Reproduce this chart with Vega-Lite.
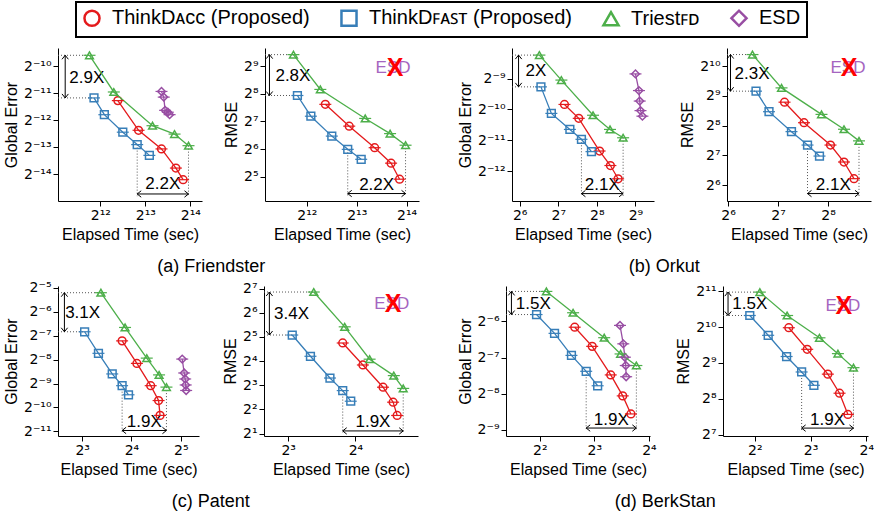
{
"$schema": "https://vega.github.io/schema/vega-lite/v6.json",
"background": "white",
"padding": {"left": 3, "top": 1, "right": 0, "bottom": 0},
"spacing": 4,
"vconcat": [
{"hconcat": [
 {"hconcat": [
  {"width": 144, "height": 153,
   "data": {"values": [
    {"k":"p","s":"a","t":5367,"e":0.000405},{"k":"p","s":"a","t":7383,"e":0.000189},{"k":"p","s":"a","t":10514,"e":0.0001171},{"k":"p","s":"a","t":13124,"e":0.0000716},{"k":"p","s":"a","t":14665,"e":0.0000531},
    {"k":"p","s":"b","t":3717,"e":0.000434},{"k":"p","s":"b","t":4360,"e":0.000282},{"k":"p","s":"b","t":5793,"e":0.00018},{"k":"p","s":"b","t":7231,"e":0.0001308},{"k":"p","s":"b","t":8720,"e":0.0000992},
    {"k":"p","s":"c","t":3468,"e":0.0012975},{"k":"p","s":"c","t":5043,"e":0.0005055},{"k":"p","s":"c","t":9153,"e":0.0002125},{"k":"p","s":"c","t":12855,"e":0.0001714},{"k":"p","s":"c","t":15936,"e":0.0001273},
    {"k":"p","s":"d","t":10514,"e":0.0005126},{"k":"p","s":"d","t":10885,"e":0.000443},{"k":"p","s":"d","t":11113,"e":0.0003155},{"k":"p","s":"d","t":11585,"e":0.0003006},{"k":"p","s":"d","t":11911,"e":0.0002824},
    {"k":"d","t":2135,"e":0.0012975,"t2":3468,"e2":0.0012975},{"k":"d","t":2135,"e":0.000434,"t2":3717,"e2":0.000434},
    {"k":"d","t":7231,"e":0.0001308,"t2":7231,"e2":0.0000348},{"k":"d","t":15936,"e":0.0001273,"t2":15936,"e2":0.0000348},
    {"k":"a","t":2385,"e":0.0012975,"t2":2385,"e2":0.000434},{"k":"a","t":7231,"e":0.0000368,"t2":15936,"e2":0.0000368},
    {"k":"hu","t":2385,"e":0.0012975},{"k":"hd","t":2385,"e":0.000434},{"k":"hl","t":7231,"e":0.0000368},{"k":"hr","t":15936,"e":0.0000368},
    {"k":"x","t":3327,"e":0.000725,"lab":"2.9X"},{"k":"x","t":10735,"e":0.0000472,"lab":"2.2X"}
   ]},
   "encoding": {
    "x": {"field":"t","type":"quantitative","scale":{"type":"log","base":2,"domain":[2135,19620]},"axis":{"values":[4096,8192,16384],"title":"Elapsed Time (sec)","labelExpr":"'2' + replace(replace(replace(replace(replace(replace(replace(replace(replace(replace(replace('' + round(log(datum.value) / LN2), '-', '⁻'), regexp('0', 'g'), '⁰'), regexp('1', 'g'), '¹'), regexp('2', 'g'), '²'), regexp('3', 'g'), '³'), regexp('4', 'g'), '⁴'), regexp('5', 'g'), '⁵'), regexp('6', 'g'), '⁶'), regexp('7', 'g'), '⁷'), regexp('8', 'g'), '⁸'), regexp('9', 'g'), '⁹')"}},
    "y": {"field":"e","type":"quantitative","scale":{"type":"log","base":2,"domain":[0.00003073,0.0015645]},"axis":{"values":[0.0009765625,0.00048828125,0.000244140625,0.0001220703125,0.00006103515625],"title":"Global Error","labelExpr":"'2' + replace(replace(replace(replace(replace(replace(replace(replace(replace(replace(replace('' + round(log(datum.value) / LN2), '-', '⁻'), regexp('0', 'g'), '⁰'), regexp('1', 'g'), '¹'), regexp('2', 'g'), '²'), regexp('3', 'g'), '³'), regexp('4', 'g'), '⁴'), regexp('5', 'g'), '⁵'), regexp('6', 'g'), '⁶'), regexp('7', 'g'), '⁷'), regexp('8', 'g'), '⁸'), regexp('9', 'g'), '⁹')"}}
   },
   "layer": [
    {"transform":[{"filter":"datum.k=='d'"}],"mark":{"type":"rule","strokeDash":[1,2],"color":"#555","strokeWidth":1},"encoding":{"x2":{"field":"t2"},"y2":{"field":"e2"}}},
    {"transform":[{"filter":"datum.k=='a'"}],"mark":{"type":"rule","color":"#000","strokeWidth":1},"encoding":{"x2":{"field":"t2"},"y2":{"field":"e2"}}},
    {"transform":[{"filter":"datum.k=='hu'"}],"mark":{"type":"point","shape":"M-0.8,1L0,0L0.8,1","size":64,"color":"#000","strokeWidth":1,"filled":false,"opacity":1}},
    {"transform":[{"filter":"datum.k=='hd'"}],"mark":{"type":"point","shape":"M-0.8,-1L0,0L0.8,-1","size":64,"color":"#000","strokeWidth":1,"filled":false,"opacity":1}},
    {"transform":[{"filter":"datum.k=='hl'"}],"mark":{"type":"point","shape":"M1,-0.8L0,0L1,0.8","size":64,"color":"#000","strokeWidth":1,"filled":false,"opacity":1}},
    {"transform":[{"filter":"datum.k=='hr'"}],"mark":{"type":"point","shape":"M-1,-0.8L0,0L-1,0.8","size":64,"color":"#000","strokeWidth":1,"filled":false,"opacity":1}},
    {"transform":[{"filter":"datum.k=='x'"}],"mark":{"type":"text","fontSize":17,"color":"#000"},"encoding":{"text":{"field":"lab"}}},
    {"transform":[{"filter":"datum.k=='p'"}],"mark":{"type":"point","filled":false,"size":60,"strokeWidth":1.5,"opacity":1},"encoding":{
      "color":{"field":"s","type":"nominal","scale":{"domain":["a","b","c","d"]},"legend":{"title":null,"orient":"none","legendX":18,"legendY":-46,"labelLimit":400,"labelExpr":"datum.label == 'a' ? 'ThinkDᴀᴄᴄ (Proposed)' : datum.label == 'b' ? 'ThinkDꜰᴀꜱᴛ (Proposed)' : datum.label == 'c' ? 'Triestꜰᴅ' : 'ESD'"}},
      "shape":{"field":"s","type":"nominal","scale":{"domain":["a","b","c","d"]},"legend":{"title":null,"orient":"none","legendX":18,"legendY":-46,"labelLimit":400,"labelExpr":"datum.label == 'a' ? 'ThinkDᴀᴄᴄ (Proposed)' : datum.label == 'b' ? 'ThinkDꜰᴀꜱᴛ (Proposed)' : datum.label == 'c' ? 'Triestꜰᴅ' : 'ESD'"}}}},
    {"transform":[{"filter":"datum.k=='p'"}],"mark":{"type":"line","strokeWidth":1.3},"encoding":{"color":{"field":"s","type":"nominal","scale":{"domain":["a","b","c","d"]}}}},
    {"transform":[{"filter":"datum.k=='p'"}],"mark":{"type":"point","shape":"stroke","size":144,"strokeWidth":1.2,"opacity":1},"encoding":{"color":{"field":"s","type":"nominal","scale":{"domain":["a","b","c","d"]}}}}
   ]
  },
  {"width": 154, "height": 153,
   "data": {"values": [
    {"k":"p","s":"a","t":5294,"e":196.7},{"k":"p","s":"a","t":7383,"e":113.8},{"k":"p","s":"a","t":10514,"e":66.26},{"k":"p","s":"a","t":13216,"e":44.94},{"k":"p","s":"a","t":14869,"e":30.06},
    {"k":"p","s":"b","t":3591,"e":245.6},{"k":"p","s":"b","t":4330,"e":146.0},{"k":"p","s":"b","t":5793,"e":88.65},{"k":"p","s":"b","t":7231,"e":63.56},{"k":"p","s":"b","t":8720,"e":49.52},
    {"k":"p","s":"c","t":3397,"e":685.0},{"k":"p","s":"c","t":4939,"e":286.0},{"k":"p","s":"c","t":9217,"e":138.1},{"k":"p","s":"c","t":13034,"e":94.36},{"k":"p","s":"c","t":16159,"e":70.52},
    {"k":"d","t":2288,"e":685,"t2":3397,"e2":685},{"k":"d","t":2288,"e":245.6,"t2":3591,"e2":245.6},
    {"k":"d","t":7231,"e":63.56,"t2":7231,"e2":19.84},{"k":"d","t":16159,"e":70.52,"t2":16159,"e2":19.84},
    {"k":"a","t":2435,"e":685,"t2":2435,"e2":245.6},{"k":"a","t":7231,"e":20.97,"t2":16159,"e2":20.97},
    {"k":"hu","t":2435,"e":685},{"k":"hd","t":2435,"e":245.6},{"k":"hl","t":7231,"e":20.97},{"k":"hr","t":16159,"e":20.97},
    {"k":"x","t":3373,"e":398.9,"lab":"2.8X"},{"k":"x","t":10810,"e":25.99,"lab":"2.2X"},
    {"k":"esd","t":13587,"e":491.1,"lab":"ESD"},{"k":"xx","t":13970,"e":491.1,"lab":"X"}
   ]},
   "encoding": {
    "x": {"field":"t","type":"quantitative","scale":{"type":"log","base":2,"domain":[2288,19484]},"axis":{"values":[4096,8192,16384],"title":"Elapsed Time (sec)","labelExpr":"'2' + replace(replace(replace(replace(replace(replace(replace(replace(replace(replace(replace('' + round(log(datum.value) / LN2), '-', '⁻'), regexp('0', 'g'), '⁰'), regexp('1', 'g'), '¹'), regexp('2', 'g'), '²'), regexp('3', 'g'), '³'), regexp('4', 'g'), '⁴'), regexp('5', 'g'), '⁵'), regexp('6', 'g'), '⁶'), regexp('7', 'g'), '⁷'), regexp('8', 'g'), '⁸'), regexp('9', 'g'), '⁹')"}},
    "y": {"field":"e","type":"quantitative","scale":{"type":"log","base":2,"domain":[17.39,809]},"axis":{"values":[32,64,128,256,512],"title":"RMSE","labelExpr":"'2' + replace(replace(replace(replace(replace(replace(replace(replace(replace(replace(replace('' + round(log(datum.value) / LN2), '-', '⁻'), regexp('0', 'g'), '⁰'), regexp('1', 'g'), '¹'), regexp('2', 'g'), '²'), regexp('3', 'g'), '³'), regexp('4', 'g'), '⁴'), regexp('5', 'g'), '⁵'), regexp('6', 'g'), '⁶'), regexp('7', 'g'), '⁷'), regexp('8', 'g'), '⁸'), regexp('9', 'g'), '⁹')"}}
   },
   "layer": [
    {"transform":[{"filter":"datum.k=='d'"}],"mark":{"type":"rule","strokeDash":[1,2],"color":"#555","strokeWidth":1},"encoding":{"x2":{"field":"t2"},"y2":{"field":"e2"}}},
    {"transform":[{"filter":"datum.k=='a'"}],"mark":{"type":"rule","color":"#000","strokeWidth":1},"encoding":{"x2":{"field":"t2"},"y2":{"field":"e2"}}},
    {"transform":[{"filter":"datum.k=='hu'"}],"mark":{"type":"point","shape":"M-0.8,1L0,0L0.8,1","size":64,"color":"#000","strokeWidth":1,"filled":false,"opacity":1}},
    {"transform":[{"filter":"datum.k=='hd'"}],"mark":{"type":"point","shape":"M-0.8,-1L0,0L0.8,-1","size":64,"color":"#000","strokeWidth":1,"filled":false,"opacity":1}},
    {"transform":[{"filter":"datum.k=='hl'"}],"mark":{"type":"point","shape":"M1,-0.8L0,0L1,0.8","size":64,"color":"#000","strokeWidth":1,"filled":false,"opacity":1}},
    {"transform":[{"filter":"datum.k=='hr'"}],"mark":{"type":"point","shape":"M-1,-0.8L0,0L-1,0.8","size":64,"color":"#000","strokeWidth":1,"filled":false,"opacity":1}},
    {"transform":[{"filter":"datum.k=='x'"}],"mark":{"type":"text","fontSize":17,"color":"#000"},"encoding":{"text":{"field":"lab"}}},
    {"transform":[{"filter":"datum.k=='esd'"}],"mark":{"type":"text","fontSize":17,"color":"#a565c0"},"encoding":{"text":{"field":"lab"}}},
    {"transform":[{"filter":"datum.k=='xx'"}],"mark":{"type":"text","fontSize":25,"color":"#ff0000","fontWeight":"bold"},"encoding":{"text":{"field":"lab"}}},
    {"transform":[{"filter":"datum.k=='p'"}],"mark":{"type":"point","filled":false,"size":60,"strokeWidth":1.5,"opacity":1},"encoding":{"color":{"field":"s","type":"nominal","scale":{"domain":["a","b","c","d"]}},"shape":{"field":"s","type":"nominal","scale":{"domain":["a","b","c","d"]}}}},
    {"transform":[{"filter":"datum.k=='p'"}],"mark":{"type":"line","strokeWidth":1.3},"encoding":{"color":{"field":"s","type":"nominal","scale":{"domain":["a","b","c","d"]}}}},
    {"transform":[{"filter":"datum.k=='p'"}],"mark":{"type":"point","shape":"stroke","size":144,"strokeWidth":1.2,"opacity":1},"encoding":{"color":{"field":"s","type":"nominal","scale":{"domain":["a","b","c","d"]}}}}
   ]
  }
 ], "spacing": 63, "bounds": "flush", "title": {"text":"(a) Friendster","orient":"bottom","anchor":"middle","fontSize":18,"fontWeight":"normal","offset":16,"color":"#000","font":"Liberation Sans"}},
 {"hconcat": [
  {"width": 142, "height": 153,
   "data": {"values": [
    {"k":"p","s":"a","t":143.0,"e":0.0010911},{"k":"p","s":"a","t":184.8,"e":0.00079872},{"k":"p","s":"a","t":268.7,"e":0.00038311},{"k":"p","s":"a","t":326.3,"e":0.00027659},{"k":"p","s":"a","t":374.8,"e":0.0002053},
    {"k":"p","s":"b","t":93.70,"e":0.0016197},{"k":"p","s":"b","t":113.0,"e":0.00089243},{"k":"p","s":"b","t":157.6,"e":0.00062236},{"k":"p","s":"b","t":194.0,"e":0.00049853},{"k":"p","s":"b","t":232.3,"e":0.00037783},
    {"k":"p","s":"c","t":91.14,"e":0.0033076},{"k":"p","s":"c","t":135.3,"e":0.0018866},{"k":"p","s":"c","t":238.9,"e":0.00085606},{"k":"p","s":"c","t":324.0,"e":0.00062236},{"k":"p","s":"c","t":410.1,"e":0.00051611},
    {"k":"p","s":"d","t":512,"e":0.0021672},{"k":"p","s":"d","t":545,"e":0.0014905},{"k":"p","s":"d","t":552.6,"e":0.0011775},{"k":"p","s":"d","t":560.3,"e":0.00094985},{"k":"p","s":"d","t":580,"e":0.00083843},
    {"k":"d","t":55.72,"e":0.0033076,"t2":91.14,"e2":0.0033076},{"k":"d","t":55.72,"e":0.0016197,"t2":93.70,"e2":0.0016197},
    {"k":"d","t":194,"e":0.00049853,"t2":194,"e2":0.00013926},{"k":"d","t":410.1,"e":0.00051611,"t2":410.1,"e2":0.00013926},
    {"k":"a","t":62.68,"e":0.0033076,"t2":62.68,"e2":0.0016197},{"k":"a","t":194,"e":0.00014719,"t2":410.1,"e2":0.00014719},
    {"k":"hu","t":62.68,"e":0.0033076},{"k":"hd","t":62.68,"e":0.0016197},{"k":"hl","t":194,"e":0.00014719},{"k":"hr","t":410.1,"e":0.00014719},
    {"k":"x","t":85.63,"e":0.0023066,"lab":"2X"},{"k":"x","t":282.1,"e":0.00017872,"lab":"2.1X"}
   ]},
   "encoding": {
    "x": {"field":"t","type":"quantitative","scale":{"type":"log","base":2,"domain":[55.72,714.1]},"axis":{"values":[64,128,256,512],"title":"Elapsed Time (sec)","labelExpr":"'2' + replace(replace(replace(replace(replace(replace(replace(replace(replace(replace(replace('' + round(log(datum.value) / LN2), '-', '⁻'), regexp('0', 'g'), '⁰'), regexp('1', 'g'), '¹'), regexp('2', 'g'), '²'), regexp('3', 'g'), '³'), regexp('4', 'g'), '⁴'), regexp('5', 'g'), '⁵'), regexp('6', 'g'), '⁶'), regexp('7', 'g'), '⁷'), regexp('8', 'g'), '⁸'), regexp('9', 'g'), '⁹')"}},
    "y": {"field":"e","type":"quantitative","scale":{"type":"log","base":2,"domain":[0.00012463,0.0038793]},"axis":{"values":[0.001953125,0.0009765625,0.00048828125,0.000244140625],"title":"Global Error","labelExpr":"'2' + replace(replace(replace(replace(replace(replace(replace(replace(replace(replace(replace('' + round(log(datum.value) / LN2), '-', '⁻'), regexp('0', 'g'), '⁰'), regexp('1', 'g'), '¹'), regexp('2', 'g'), '²'), regexp('3', 'g'), '³'), regexp('4', 'g'), '⁴'), regexp('5', 'g'), '⁵'), regexp('6', 'g'), '⁶'), regexp('7', 'g'), '⁷'), regexp('8', 'g'), '⁸'), regexp('9', 'g'), '⁹')"}}
   },
   "layer": [
    {"transform":[{"filter":"datum.k=='d'"}],"mark":{"type":"rule","strokeDash":[1,2],"color":"#555","strokeWidth":1},"encoding":{"x2":{"field":"t2"},"y2":{"field":"e2"}}},
    {"transform":[{"filter":"datum.k=='a'"}],"mark":{"type":"rule","color":"#000","strokeWidth":1},"encoding":{"x2":{"field":"t2"},"y2":{"field":"e2"}}},
    {"transform":[{"filter":"datum.k=='hu'"}],"mark":{"type":"point","shape":"M-0.8,1L0,0L0.8,1","size":64,"color":"#000","strokeWidth":1,"filled":false,"opacity":1}},
    {"transform":[{"filter":"datum.k=='hd'"}],"mark":{"type":"point","shape":"M-0.8,-1L0,0L0.8,-1","size":64,"color":"#000","strokeWidth":1,"filled":false,"opacity":1}},
    {"transform":[{"filter":"datum.k=='hl'"}],"mark":{"type":"point","shape":"M1,-0.8L0,0L1,0.8","size":64,"color":"#000","strokeWidth":1,"filled":false,"opacity":1}},
    {"transform":[{"filter":"datum.k=='hr'"}],"mark":{"type":"point","shape":"M-1,-0.8L0,0L-1,0.8","size":64,"color":"#000","strokeWidth":1,"filled":false,"opacity":1}},
    {"transform":[{"filter":"datum.k=='x'"}],"mark":{"type":"text","fontSize":17,"color":"#000"},"encoding":{"text":{"field":"lab"}}},
    {"transform":[{"filter":"datum.k=='p'"}],"mark":{"type":"point","filled":false,"size":60,"strokeWidth":1.5,"opacity":1},"encoding":{"color":{"field":"s","type":"nominal","scale":{"domain":["a","b","c","d"]}},"shape":{"field":"s","type":"nominal","scale":{"domain":["a","b","c","d"]}}}},
    {"transform":[{"filter":"datum.k=='p'"}],"mark":{"type":"line","strokeWidth":1.3},"encoding":{"color":{"field":"s","type":"nominal","scale":{"domain":["a","b","c","d"]}}}},
    {"transform":[{"filter":"datum.k=='p'"}],"mark":{"type":"point","shape":"stroke","size":144,"strokeWidth":1.2,"opacity":1},"encoding":{"color":{"field":"s","type":"nominal","scale":{"domain":["a","b","c","d"]}}}}
   ]
  },
  {"width": 144, "height": 153,
   "data": {"values": [
    {"k":"p","s":"a","t":140.1,"e":442.6},{"k":"p","s":"a","t":183.6,"e":274.4},{"k":"p","s":"a","t":265.0,"e":163.1},{"k":"p","s":"a","t":319.6,"e":109.9},{"k":"p","s":"a","t":367.1,"e":74.54},
    {"k":"p","s":"b","t":94.36,"e":572.1},{"k":"p","s":"b","t":113.0,"e":354.6},{"k":"p","s":"b","t":154.3,"e":222.9},{"k":"p","s":"b","t":192.7,"e":163.1},{"k":"p","s":"b","t":227.5,"e":126.2},
    {"k":"p","s":"c","t":89.88,"e":1341.8},{"k":"p","s":"c","t":134.4,"e":617.4},{"k":"p","s":"c","t":233.9,"e":333.1},{"k":"p","s":"c","t":319.6,"e":235.6},{"k":"p","s":"c","t":393.4,"e":179.8},
    {"k":"d","t":63.12,"e":1341.8,"t2":89.88,"e2":1341.8},{"k":"d","t":63.12,"e":572.1,"t2":94.36,"e2":572.1},
    {"k":"d","t":192.7,"e":163.1,"t2":192.7,"e2":49.87},{"k":"d","t":393.4,"e":179.8,"t2":393.4,"e2":49.87},
    {"k":"a","t":66.26,"e":1341.8,"t2":66.26,"e2":572.1},{"k":"a","t":192.7,"e":52.71,"t2":393.4,"e2":52.71},
    {"k":"hu","t":66.26,"e":1341.8},{"k":"hd","t":66.26,"e":572.1},{"k":"hl","t":192.7,"e":52.71},{"k":"hr","t":393.4,"e":52.71},
    {"k":"x","t":89.26,"e":855.1,"lab":"2.3X"},{"k":"x","t":275.3,"e":64.45,"lab":"2.1X"},
    {"k":"esd","t":337.8,"e":982.3,"lab":"ESD"},{"k":"xx","t":342.5,"e":982.3,"lab":"X"}
   ]},
   "encoding": {
    "x": {"field":"t","type":"quantitative","scale":{"type":"log","base":2,"domain":[63.12,464.6]},"axis":{"values":[64,128,256],"title":"Elapsed Time (sec)","labelExpr":"'2' + replace(replace(replace(replace(replace(replace(replace(replace(replace(replace(replace('' + round(log(datum.value) / LN2), '-', '⁻'), regexp('0', 'g'), '⁰'), regexp('1', 'g'), '¹'), regexp('2', 'g'), '²'), regexp('3', 'g'), '³'), regexp('4', 'g'), '⁴'), regexp('5', 'g'), '⁵'), regexp('6', 'g'), '⁶'), regexp('7', 'g'), '⁷'), regexp('8', 'g'), '⁸'), regexp('9', 'g'), '⁹')"}},
    "y": {"field":"e","type":"quantitative","scale":{"type":"log","base":2,"domain":[44.32,1563]},"axis":{"values":[64,128,256,512,1024],"title":"RMSE","labelExpr":"'2' + replace(replace(replace(replace(replace(replace(replace(replace(replace(replace(replace('' + round(log(datum.value) / LN2), '-', '⁻'), regexp('0', 'g'), '⁰'), regexp('1', 'g'), '¹'), regexp('2', 'g'), '²'), regexp('3', 'g'), '³'), regexp('4', 'g'), '⁴'), regexp('5', 'g'), '⁵'), regexp('6', 'g'), '⁶'), regexp('7', 'g'), '⁷'), regexp('8', 'g'), '⁸'), regexp('9', 'g'), '⁹')"}}
   },
   "layer": [
    {"transform":[{"filter":"datum.k=='d'"}],"mark":{"type":"rule","strokeDash":[1,2],"color":"#555","strokeWidth":1},"encoding":{"x2":{"field":"t2"},"y2":{"field":"e2"}}},
    {"transform":[{"filter":"datum.k=='a'"}],"mark":{"type":"rule","color":"#000","strokeWidth":1},"encoding":{"x2":{"field":"t2"},"y2":{"field":"e2"}}},
    {"transform":[{"filter":"datum.k=='hu'"}],"mark":{"type":"point","shape":"M-0.8,1L0,0L0.8,1","size":64,"color":"#000","strokeWidth":1,"filled":false,"opacity":1}},
    {"transform":[{"filter":"datum.k=='hd'"}],"mark":{"type":"point","shape":"M-0.8,-1L0,0L0.8,-1","size":64,"color":"#000","strokeWidth":1,"filled":false,"opacity":1}},
    {"transform":[{"filter":"datum.k=='hl'"}],"mark":{"type":"point","shape":"M1,-0.8L0,0L1,0.8","size":64,"color":"#000","strokeWidth":1,"filled":false,"opacity":1}},
    {"transform":[{"filter":"datum.k=='hr'"}],"mark":{"type":"point","shape":"M-1,-0.8L0,0L-1,0.8","size":64,"color":"#000","strokeWidth":1,"filled":false,"opacity":1}},
    {"transform":[{"filter":"datum.k=='x'"}],"mark":{"type":"text","fontSize":17,"color":"#000"},"encoding":{"text":{"field":"lab"}}},
    {"transform":[{"filter":"datum.k=='esd'"}],"mark":{"type":"text","fontSize":17,"color":"#a565c0"},"encoding":{"text":{"field":"lab"}}},
    {"transform":[{"filter":"datum.k=='xx'"}],"mark":{"type":"text","fontSize":25,"color":"#ff0000","fontWeight":"bold"},"encoding":{"text":{"field":"lab"}}},
    {"transform":[{"filter":"datum.k=='p'"}],"mark":{"type":"point","filled":false,"size":60,"strokeWidth":1.5,"opacity":1},"encoding":{"color":{"field":"s","type":"nominal","scale":{"domain":["a","b","c","d"]}},"shape":{"field":"s","type":"nominal","scale":{"domain":["a","b","c","d"]}}}},
    {"transform":[{"filter":"datum.k=='p'"}],"mark":{"type":"line","strokeWidth":1.3},"encoding":{"color":{"field":"s","type":"nominal","scale":{"domain":["a","b","c","d"]}}}},
    {"transform":[{"filter":"datum.k=='p'"}],"mark":{"type":"point","shape":"stroke","size":144,"strokeWidth":1.2,"opacity":1},"encoding":{"color":{"field":"s","type":"nominal","scale":{"domain":["a","b","c","d"]}}}}
   ]
  }
 ], "spacing": 73, "bounds": "flush", "title": {"text":"(b) Orkut","orient":"bottom","anchor":"middle","fontSize":18,"fontWeight":"normal","offset":16,"color":"#000","font":"Liberation Sans"}}
], "spacing": 38},
{"hconcat": [
 {"hconcat": [
  {"width": 141, "height": 150,
   "data": {"values": [
    {"k":"p","s":"a","t":14.03,"e":0.0067074},{"k":"p","s":"a","t":17.27,"e":0.0034963},{"k":"p","s":"a","t":20.97,"e":0.001835},{"k":"p","s":"a","t":23.43,"e":0.0011939},{"k":"p","s":"a","t":23.92,"e":0.0007769},
    {"k":"p","s":"b","t":8.282,"e":0.0087289},{"k":"p","s":"b","t":10.06,"e":0.0046777},{"k":"p","s":"b","t":12.21,"e":0.0025771},{"k":"p","s":"b","t":14.03,"e":0.001835},{"k":"p","s":"b","t":15.35,"e":0.0014101},
    {"k":"p","s":"c","t":10.41,"e":0.027017},{"k":"p","s":"c","t":14.62,"e":0.0098891},{"k":"p","s":"c","t":19.84,"e":0.0040723},{"k":"p","s":"c","t":23.59,"e":0.0025066},{"k":"p","s":"c","t":26.17,"e":0.0017603},
    {"k":"p","s":"d","t":32.67,"e":0.003961},{"k":"p","s":"d","t":33.59,"e":0.0026496},{"k":"p","s":"d","t":34.06,"e":0.0022281},{"k":"p","s":"d","t":34.30,"e":0.0018735},{"k":"p","s":"d","t":34.53,"e":0.0015975},
    {"k":"d","t":5.696,"e":0.027017,"t2":10.41,"e2":0.027017},{"k":"d","t":5.696,"e":0.0087289,"t2":8.282,"e2":0.0087289},
    {"k":"d","t":14.03,"e":0.001835,"t2":14.03,"e2":0.00047822},{"k":"d","t":26.17,"e":0.0017603,"t2":26.17,"e2":0.00047822},
    {"k":"a","t":6.233,"e":0.027017,"t2":6.233,"e2":0.0087289},{"k":"a","t":14.03,"e":0.000502,"t2":26.17,"e2":0.000502},
    {"k":"hu","t":6.233,"e":0.027017},{"k":"hd","t":6.233,"e":0.0087289},{"k":"hl","t":14.03,"e":0.000502},{"k":"hr","t":26.17,"e":0.000502},
    {"k":"x","t":8.056,"e":0.015198,"lab":"3.1X"},{"k":"x","t":19.16,"e":0.00063984,"lab":"1.9X"}
   ]},
   "encoding": {
    "x": {"field":"t","type":"quantitative","scale":{"type":"log","base":2,"domain":[5.696,41.36]},"axis":{"values":[8,16,32],"title":"Elapsed Time (sec)","labelExpr":"'2' + replace(replace(replace(replace(replace(replace(replace(replace(replace(replace(replace('' + round(log(datum.value) / LN2), '-', '⁻'), regexp('0', 'g'), '⁰'), regexp('1', 'g'), '¹'), regexp('2', 'g'), '²'), regexp('3', 'g'), '³'), regexp('4', 'g'), '⁴'), regexp('5', 'g'), '⁵'), regexp('6', 'g'), '⁶'), regexp('7', 'g'), '⁷'), regexp('8', 'g'), '⁸'), regexp('9', 'g'), '⁹')"}},
    "y": {"field":"e","type":"quantitative","scale":{"type":"log","base":2,"domain":[0.00042803,0.032803]},"axis":{"values":[0.03125,0.015625,0.0078125,0.00390625,0.001953125,0.0009765625,0.00048828125],"title":"Global Error","labelExpr":"'2' + replace(replace(replace(replace(replace(replace(replace(replace(replace(replace(replace('' + round(log(datum.value) / LN2), '-', '⁻'), regexp('0', 'g'), '⁰'), regexp('1', 'g'), '¹'), regexp('2', 'g'), '²'), regexp('3', 'g'), '³'), regexp('4', 'g'), '⁴'), regexp('5', 'g'), '⁵'), regexp('6', 'g'), '⁶'), regexp('7', 'g'), '⁷'), regexp('8', 'g'), '⁸'), regexp('9', 'g'), '⁹')"}}
   },
   "layer": [
    {"transform":[{"filter":"datum.k=='d'"}],"mark":{"type":"rule","strokeDash":[1,2],"color":"#555","strokeWidth":1},"encoding":{"x2":{"field":"t2"},"y2":{"field":"e2"}}},
    {"transform":[{"filter":"datum.k=='a'"}],"mark":{"type":"rule","color":"#000","strokeWidth":1},"encoding":{"x2":{"field":"t2"},"y2":{"field":"e2"}}},
    {"transform":[{"filter":"datum.k=='hu'"}],"mark":{"type":"point","shape":"M-0.8,1L0,0L0.8,1","size":64,"color":"#000","strokeWidth":1,"filled":false,"opacity":1}},
    {"transform":[{"filter":"datum.k=='hd'"}],"mark":{"type":"point","shape":"M-0.8,-1L0,0L0.8,-1","size":64,"color":"#000","strokeWidth":1,"filled":false,"opacity":1}},
    {"transform":[{"filter":"datum.k=='hl'"}],"mark":{"type":"point","shape":"M1,-0.8L0,0L1,0.8","size":64,"color":"#000","strokeWidth":1,"filled":false,"opacity":1}},
    {"transform":[{"filter":"datum.k=='hr'"}],"mark":{"type":"point","shape":"M-1,-0.8L0,0L-1,0.8","size":64,"color":"#000","strokeWidth":1,"filled":false,"opacity":1}},
    {"transform":[{"filter":"datum.k=='x'"}],"mark":{"type":"text","fontSize":17,"color":"#000"},"encoding":{"text":{"field":"lab"}}},
    {"transform":[{"filter":"datum.k=='p'"}],"mark":{"type":"point","filled":false,"size":60,"strokeWidth":1.5,"opacity":1},"encoding":{"color":{"field":"s","type":"nominal","scale":{"domain":["a","b","c","d"]}},"shape":{"field":"s","type":"nominal","scale":{"domain":["a","b","c","d"]}}}},
    {"transform":[{"filter":"datum.k=='p'"}],"mark":{"type":"line","strokeWidth":1.3},"encoding":{"color":{"field":"s","type":"nominal","scale":{"domain":["a","b","c","d"]}}}},
    {"transform":[{"filter":"datum.k=='p'"}],"mark":{"type":"point","shape":"stroke","size":144,"strokeWidth":1.2,"opacity":1},"encoding":{"color":{"field":"s","type":"nominal","scale":{"domain":["a","b","c","d"]}}}}
   ]
  },
  {"width": 154, "height": 150,
   "data": {"values": [
    {"k":"p","s":"a","t":14.03,"e":26.91},{"k":"p","s":"a","t":17.27,"e":14.32},{"k":"p","s":"a","t":21.26,"e":7.568},{"k":"p","s":"a","t":23.59,"e":4.924},{"k":"p","s":"a","t":24.59,"e":3.364},
    {"k":"p","s":"b","t":8.34,"e":33.82},{"k":"p","s":"b","t":10.06,"e":18.38},{"k":"p","s":"b","t":12.30,"e":9.849},{"k":"p","s":"b","t":14.03,"e":6.868},{"k":"p","s":"b","t":15.24,"e":5.063},
    {"k":"p","s":"c","t":10.41,"e":116.2},{"k":"p","s":"c","t":14.32,"e":42.81},{"k":"p","s":"c","t":18.51,"e":16.91},{"k":"p","s":"c","t":23.75,"e":10.56},{"k":"p","s":"c","t":26.17,"e":7.311},
    {"k":"d","t":6.233,"e":116.2,"t2":10.41,"e2":116.2},{"k":"d","t":6.233,"e":33.82,"t2":8.34,"e2":33.82},
    {"k":"d","t":14.03,"e":6.868,"t2":14.03,"e2":2.035},{"k":"d","t":26.17,"e":7.311,"t2":26.17,"e2":2.035},
    {"k":"a","t":6.589,"e":116.2,"t2":6.589,"e2":33.82},{"k":"a","t":14.03,"e":2.158,"t2":26.17,"e2":2.158},
    {"k":"hu","t":6.589,"e":116.2},{"k":"hd","t":6.589,"e":33.82},{"k":"hl","t":14.03,"e":2.158},{"k":"hr","t":26.17,"e":2.158},
    {"k":"x","t":8.282,"e":61.39,"lab":"3.4X"},{"k":"x","t":19.16,"e":2.789,"lab":"1.9X"},
    {"k":"esd","t":23.26,"e":81.57,"lab":"ESD"},{"k":"xx","t":23.6,"e":81.57,"lab":"X"}
   ]},
   "encoding": {
    "x": {"field":"t","type":"quantitative","scale":{"type":"log","base":2,"domain":[6.233,30.48]},"axis":{"values":[8,16],"title":"Elapsed Time (sec)","labelExpr":"'2' + replace(replace(replace(replace(replace(replace(replace(replace(replace(replace(replace('' + round(log(datum.value) / LN2), '-', '⁻'), regexp('0', 'g'), '⁰'), regexp('1', 'g'), '¹'), regexp('2', 'g'), '²'), regexp('3', 'g'), '³'), regexp('4', 'g'), '⁴'), regexp('5', 'g'), '⁵'), regexp('6', 'g'), '⁶'), regexp('7', 'g'), '⁷'), regexp('8', 'g'), '⁸'), regexp('9', 'g'), '⁹')"}},
    "y": {"field":"e","type":"quantitative","scale":{"type":"log","base":2,"domain":[1.866,138.1]},"axis":{"values":[2,4,8,16,32,64,128],"title":"RMSE","labelExpr":"'2' + replace(replace(replace(replace(replace(replace(replace(replace(replace(replace(replace('' + round(log(datum.value) / LN2), '-', '⁻'), regexp('0', 'g'), '⁰'), regexp('1', 'g'), '¹'), regexp('2', 'g'), '²'), regexp('3', 'g'), '³'), regexp('4', 'g'), '⁴'), regexp('5', 'g'), '⁵'), regexp('6', 'g'), '⁶'), regexp('7', 'g'), '⁷'), regexp('8', 'g'), '⁸'), regexp('9', 'g'), '⁹')"}}
   },
   "layer": [
    {"transform":[{"filter":"datum.k=='d'"}],"mark":{"type":"rule","strokeDash":[1,2],"color":"#555","strokeWidth":1},"encoding":{"x2":{"field":"t2"},"y2":{"field":"e2"}}},
    {"transform":[{"filter":"datum.k=='a'"}],"mark":{"type":"rule","color":"#000","strokeWidth":1},"encoding":{"x2":{"field":"t2"},"y2":{"field":"e2"}}},
    {"transform":[{"filter":"datum.k=='hu'"}],"mark":{"type":"point","shape":"M-0.8,1L0,0L0.8,1","size":64,"color":"#000","strokeWidth":1,"filled":false,"opacity":1}},
    {"transform":[{"filter":"datum.k=='hd'"}],"mark":{"type":"point","shape":"M-0.8,-1L0,0L0.8,-1","size":64,"color":"#000","strokeWidth":1,"filled":false,"opacity":1}},
    {"transform":[{"filter":"datum.k=='hl'"}],"mark":{"type":"point","shape":"M1,-0.8L0,0L1,0.8","size":64,"color":"#000","strokeWidth":1,"filled":false,"opacity":1}},
    {"transform":[{"filter":"datum.k=='hr'"}],"mark":{"type":"point","shape":"M-1,-0.8L0,0L-1,0.8","size":64,"color":"#000","strokeWidth":1,"filled":false,"opacity":1}},
    {"transform":[{"filter":"datum.k=='x'"}],"mark":{"type":"text","fontSize":17,"color":"#000"},"encoding":{"text":{"field":"lab"}}},
    {"transform":[{"filter":"datum.k=='esd'"}],"mark":{"type":"text","fontSize":17,"color":"#a565c0"},"encoding":{"text":{"field":"lab"}}},
    {"transform":[{"filter":"datum.k=='xx'"}],"mark":{"type":"text","fontSize":25,"color":"#ff0000","fontWeight":"bold"},"encoding":{"text":{"field":"lab"}}},
    {"transform":[{"filter":"datum.k=='p'"}],"mark":{"type":"point","filled":false,"size":60,"strokeWidth":1.5,"opacity":1},"encoding":{"color":{"field":"s","type":"nominal","scale":{"domain":["a","b","c","d"]}},"shape":{"field":"s","type":"nominal","scale":{"domain":["a","b","c","d"]}}}},
    {"transform":[{"filter":"datum.k=='p'"}],"mark":{"type":"line","strokeWidth":1.3},"encoding":{"color":{"field":"s","type":"nominal","scale":{"domain":["a","b","c","d"]}}}},
    {"transform":[{"filter":"datum.k=='p'"}],"mark":{"type":"point","shape":"stroke","size":144,"strokeWidth":1.2,"opacity":1},"encoding":{"color":{"field":"s","type":"nominal","scale":{"domain":["a","b","c","d"]}}}}
   ]
  }
 ], "spacing": 65, "bounds": "flush", "title": {"text":"(c) Patent","orient":"bottom","anchor":"middle","fontSize":18,"fontWeight":"normal","offset":16,"color":"#000","font":"Liberation Sans"}},
 {"hconcat": [
  {"width": 144, "height": 150,
   "data": {"values": [
    {"k":"p","s":"a","t":6.233,"e":0.013985},{"k":"p","s":"a","t":7.781,"e":0.0096852},{"k":"p","s":"a","t":9.849,"e":0.0056016},{"k":"p","s":"a","t":11.47,"e":0.0037471},{"k":"p","s":"a","t":12.73,"e":0.0026496},
    {"k":"p","s":"b","t":3.837,"e":0.017825},{"k":"p","s":"b","t":4.823,"e":0.01243},{"k":"p","s":"b","t":5.979,"e":0.0081445},{"k":"p","s":"b","t":7.21,"e":0.0060035},{"k":"p","s":"b","t":8.34,"e":0.0045496},
    {"k":"p","s":"c","t":4.347,"e":0.027777},{"k":"p","s":"c","t":6.105,"e":0.018453},{"k":"p","s":"c","t":9.063,"e":0.011438},{"k":"p","s":"c","t":11.16,"e":0.0083734},{"k":"p","s":"c","t":13.64,"e":0.0067074},
    {"k":"p","s":"d","t":11.08,"e":0.014478},{"k":"p","s":"d","t":11.55,"e":0.010166},{"k":"p","s":"d","t":11.79,"e":0.0078672},{"k":"p","s":"d","t":11.92,"e":0.0067074},{"k":"p","s":"d","t":11.98,"e":0.0054105},
    {"k":"d","t":2.603,"e":0.027777,"t2":4.347,"e2":0.027777},{"k":"d","t":2.603,"e":0.017825,"t2":3.837,"e2":0.017825},
    {"k":"d","t":7.21,"e":0.0060035,"t2":7.21,"e2":0.0019805},{"k":"d","t":13.64,"e":0.0067074,"t2":13.64,"e2":0.0019805},
    {"k":"a","t":2.789,"e":0.027777,"t2":2.789,"e2":0.017825},{"k":"a","t":7.21,"e":0.0020221,"t2":13.64,"e2":0.0020221},
    {"k":"hu","t":2.789,"e":0.027777},{"k":"hd","t":2.789,"e":0.017825},{"k":"hl","t":7.21,"e":0.0020221},{"k":"hr","t":13.64,"e":0.0020221},
    {"k":"x","t":3.681,"e":0.021944,"lab":"1.5X"},{"k":"x","t":9.917,"e":0.0023715,"lab":"1.9X"}
   ]},
   "encoding": {
    "x": {"field":"t","type":"quantitative","scale":{"type":"log","base":2,"domain":[2.603,16.22]},"axis":{"values":[4,8,16],"title":"Elapsed Time (sec)","labelExpr":"'2' + replace(replace(replace(replace(replace(replace(replace(replace(replace(replace(replace('' + round(log(datum.value) / LN2), '-', '⁻'), regexp('0', 'g'), '⁰'), regexp('1', 'g'), '¹'), regexp('2', 'g'), '²'), regexp('3', 'g'), '³'), regexp('4', 'g'), '⁴'), regexp('5', 'g'), '⁵'), regexp('6', 'g'), '⁶'), regexp('7', 'g'), '⁷'), regexp('8', 'g'), '⁸'), regexp('9', 'g'), '⁹')"}},
    "y": {"field":"e","type":"quantitative","scale":{"type":"log","base":2,"domain":[0.001736,0.03082]},"axis":{"values":[0.015625,0.0078125,0.00390625,0.001953125],"title":"Global Error","labelExpr":"'2' + replace(replace(replace(replace(replace(replace(replace(replace(replace(replace(replace('' + round(log(datum.value) / LN2), '-', '⁻'), regexp('0', 'g'), '⁰'), regexp('1', 'g'), '¹'), regexp('2', 'g'), '²'), regexp('3', 'g'), '³'), regexp('4', 'g'), '⁴'), regexp('5', 'g'), '⁵'), regexp('6', 'g'), '⁶'), regexp('7', 'g'), '⁷'), regexp('8', 'g'), '⁸'), regexp('9', 'g'), '⁹')"}}
   },
   "layer": [
    {"transform":[{"filter":"datum.k=='d'"}],"mark":{"type":"rule","strokeDash":[1,2],"color":"#555","strokeWidth":1},"encoding":{"x2":{"field":"t2"},"y2":{"field":"e2"}}},
    {"transform":[{"filter":"datum.k=='a'"}],"mark":{"type":"rule","color":"#000","strokeWidth":1},"encoding":{"x2":{"field":"t2"},"y2":{"field":"e2"}}},
    {"transform":[{"filter":"datum.k=='hu'"}],"mark":{"type":"point","shape":"M-0.8,1L0,0L0.8,1","size":64,"color":"#000","strokeWidth":1,"filled":false,"opacity":1}},
    {"transform":[{"filter":"datum.k=='hd'"}],"mark":{"type":"point","shape":"M-0.8,-1L0,0L0.8,-1","size":64,"color":"#000","strokeWidth":1,"filled":false,"opacity":1}},
    {"transform":[{"filter":"datum.k=='hl'"}],"mark":{"type":"point","shape":"M1,-0.8L0,0L1,0.8","size":64,"color":"#000","strokeWidth":1,"filled":false,"opacity":1}},
    {"transform":[{"filter":"datum.k=='hr'"}],"mark":{"type":"point","shape":"M-1,-0.8L0,0L-1,0.8","size":64,"color":"#000","strokeWidth":1,"filled":false,"opacity":1}},
    {"transform":[{"filter":"datum.k=='x'"}],"mark":{"type":"text","fontSize":17,"color":"#000"},"encoding":{"text":{"field":"lab"}}},
    {"transform":[{"filter":"datum.k=='p'"}],"mark":{"type":"point","filled":false,"size":60,"strokeWidth":1.5,"opacity":1},"encoding":{"color":{"field":"s","type":"nominal","scale":{"domain":["a","b","c","d"]}},"shape":{"field":"s","type":"nominal","scale":{"domain":["a","b","c","d"]}}}},
    {"transform":[{"filter":"datum.k=='p'"}],"mark":{"type":"line","strokeWidth":1.3},"encoding":{"color":{"field":"s","type":"nominal","scale":{"domain":["a","b","c","d"]}}}},
    {"transform":[{"filter":"datum.k=='p'"}],"mark":{"type":"point","shape":"stroke","size":144,"strokeWidth":1.2,"opacity":1},"encoding":{"color":{"field":"s","type":"nominal","scale":{"domain":["a","b","c","d"]}}}}
   ]
  },
  {"width": 145, "height": 150,
   "data": {"values": [
    {"k":"p","s":"a","t":6.105,"e":1009.9},{"k":"p","s":"a","t":7.674,"e":666.3},{"k":"p","s":"a","t":9.918,"e":413.0},{"k":"p","s":"a","t":11.47,"e":286.0},{"k":"p","s":"a","t":12.73,"e":190.0},
    {"k":"p","s":"b","t":3.758,"e":1278.3},{"k":"p","s":"b","t":4.724,"e":873.1},{"k":"p","s":"b","t":5.938,"e":580.0},{"k":"p","s":"b","t":7.16,"e":430.5},{"k":"p","s":"b","t":8.34,"e":333.1},
    {"k":"p","s":"c","t":4.258,"e":2005.8},{"k":"p","s":"c","t":5.979,"e":1278.3},{"k":"p","s":"c","t":8.938,"e":831.7},{"k":"p","s":"c","t":11.24,"e":613.1},{"k":"p","s":"c","t":13.64,"e":467.9},
    {"k":"d","t":2.694,"e":2005.8,"t2":4.258,"e2":2005.8},{"k":"d","t":2.694,"e":1278.3,"t2":3.758,"e2":1278.3},
    {"k":"d","t":7.16,"e":430.5,"t2":7.16,"e2":140.1},{"k":"d","t":13.64,"e":467.9,"t2":13.64,"e2":140.1},
    {"k":"a","t":2.868,"e":2005.8,"t2":2.868,"e2":1278.3},{"k":"a","t":7.16,"e":146.0,"t2":13.64,"e2":146.0},
    {"k":"hu","t":2.868,"e":2005.8},{"k":"hd","t":2.868,"e":1278.3},{"k":"hl","t":7.16,"e":146.0},{"k":"hr","t":13.64,"e":146.0},
    {"k":"x","t":3.758,"e":1584.7,"lab":"1.5X"},{"k":"x","t":9.882,"e":171.3,"lab":"1.9X"},
    {"k":"esd","t":11.96,"e":1530.7,"lab":"ESD"},{"k":"xx","t":12.1,"e":1530.7,"lab":"X"}
   ]},
   "encoding": {
    "x": {"field":"t","type":"quantitative","scale":{"type":"log","base":2,"domain":[2.694,16.34]},"axis":{"values":[4,8,16],"title":"Elapsed Time (sec)","labelExpr":"'2' + replace(replace(replace(replace(replace(replace(replace(replace(replace(replace(replace('' + round(log(datum.value) / LN2), '-', '⁻'), regexp('0', 'g'), '⁰'), regexp('1', 'g'), '¹'), regexp('2', 'g'), '²'), regexp('3', 'g'), '³'), regexp('4', 'g'), '⁴'), regexp('5', 'g'), '⁵'), regexp('6', 'g'), '⁶'), regexp('7', 'g'), '⁷'), regexp('8', 'g'), '⁸'), regexp('9', 'g'), '⁹')"}},
    "y": {"field":"e","type":"quantitative","scale":{"type":"log","base":2,"domain":[125.4,2256.7]},"axis":{"values":[128,256,512,1024,2048],"title":"RMSE","labelExpr":"'2' + replace(replace(replace(replace(replace(replace(replace(replace(replace(replace(replace('' + round(log(datum.value) / LN2), '-', '⁻'), regexp('0', 'g'), '⁰'), regexp('1', 'g'), '¹'), regexp('2', 'g'), '²'), regexp('3', 'g'), '³'), regexp('4', 'g'), '⁴'), regexp('5', 'g'), '⁵'), regexp('6', 'g'), '⁶'), regexp('7', 'g'), '⁷'), regexp('8', 'g'), '⁸'), regexp('9', 'g'), '⁹')"}}
   },
   "layer": [
    {"transform":[{"filter":"datum.k=='d'"}],"mark":{"type":"rule","strokeDash":[1,2],"color":"#555","strokeWidth":1},"encoding":{"x2":{"field":"t2"},"y2":{"field":"e2"}}},
    {"transform":[{"filter":"datum.k=='a'"}],"mark":{"type":"rule","color":"#000","strokeWidth":1},"encoding":{"x2":{"field":"t2"},"y2":{"field":"e2"}}},
    {"transform":[{"filter":"datum.k=='hu'"}],"mark":{"type":"point","shape":"M-0.8,1L0,0L0.8,1","size":64,"color":"#000","strokeWidth":1,"filled":false,"opacity":1}},
    {"transform":[{"filter":"datum.k=='hd'"}],"mark":{"type":"point","shape":"M-0.8,-1L0,0L0.8,-1","size":64,"color":"#000","strokeWidth":1,"filled":false,"opacity":1}},
    {"transform":[{"filter":"datum.k=='hl'"}],"mark":{"type":"point","shape":"M1,-0.8L0,0L1,0.8","size":64,"color":"#000","strokeWidth":1,"filled":false,"opacity":1}},
    {"transform":[{"filter":"datum.k=='hr'"}],"mark":{"type":"point","shape":"M-1,-0.8L0,0L-1,0.8","size":64,"color":"#000","strokeWidth":1,"filled":false,"opacity":1}},
    {"transform":[{"filter":"datum.k=='x'"}],"mark":{"type":"text","fontSize":17,"color":"#000"},"encoding":{"text":{"field":"lab"}}},
    {"transform":[{"filter":"datum.k=='esd'"}],"mark":{"type":"text","fontSize":17,"color":"#a565c0"},"encoding":{"text":{"field":"lab"}}},
    {"transform":[{"filter":"datum.k=='xx'"}],"mark":{"type":"text","fontSize":25,"color":"#ff0000","fontWeight":"bold"},"encoding":{"text":{"field":"lab"}}},
    {"transform":[{"filter":"datum.k=='p'"}],"mark":{"type":"point","filled":false,"size":60,"strokeWidth":1.5,"opacity":1},"encoding":{"color":{"field":"s","type":"nominal","scale":{"domain":["a","b","c","d"]}},"shape":{"field":"s","type":"nominal","scale":{"domain":["a","b","c","d"]}}}},
    {"transform":[{"filter":"datum.k=='p'"}],"mark":{"type":"line","strokeWidth":1.3},"encoding":{"color":{"field":"s","type":"nominal","scale":{"domain":["a","b","c","d"]}}}},
    {"transform":[{"filter":"datum.k=='p'"}],"mark":{"type":"point","shape":"stroke","size":144,"strokeWidth":1.2,"opacity":1},"encoding":{"color":{"field":"s","type":"nominal","scale":{"domain":["a","b","c","d"]}}}}
   ]
  }
 ], "spacing": 73, "bounds": "flush", "title": {"text":"(d) BerkStan","orient":"bottom","anchor":"middle","fontSize":18,"fontWeight":"normal","offset":16,"color":"#000","font":"Liberation Sans"}}
], "spacing": 39}
],
"config": {
 "view": {"stroke": null},
 "font": "Liberation Sans",
 "range": {"category": ["#e41a1c","#377eb8","#4daf4a","#984ea3"], "symbol": ["circle","square","triangle-up","diamond"]},
 "axis": {"domainColor":"#000","tickColor":"#000","labelColor":"#000","titleColor":"#000","tickSize":5,"labelPadding":2,"titlePadding":4,"labelFontSize":14,"titleFontSize":16,"titleFontWeight":"normal","labelFont":"DejaVu Sans","titleFont":"Liberation Sans","grid":false,"labelOverlap":false,"labelFlush":false},
 "legend": {"direction":"horizontal","labelFontSize":20,"labelFont":"Liberation Sans","labelColor":"#000","symbolSize":227,"symbolStrokeWidth":2.5,"strokeColor":"#000","strokeWidth":2,"padding":6,"columnPadding":26,"labelOffset":10}
}
}
